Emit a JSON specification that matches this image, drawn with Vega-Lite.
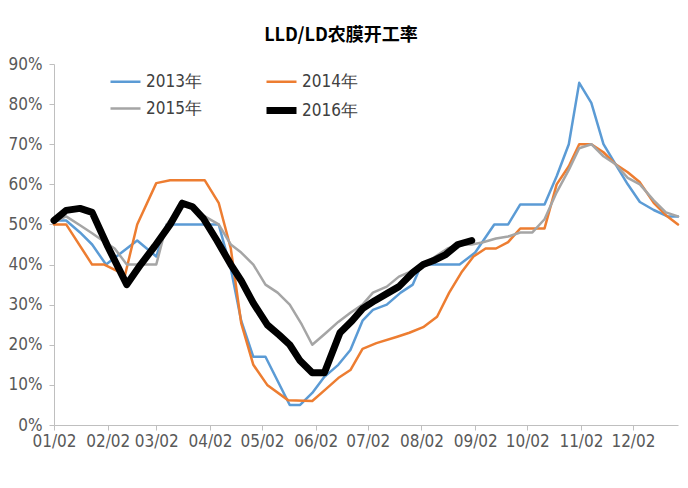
{
  "$schema": "https://vega.github.io/schema/vega-lite/v6.json",
  "width": 624,
  "height": 361,
  "autosize": {"type": "none"},
  "padding": {"left": 54, "top": 64, "right": 10, "bottom": 63},
  "background": "white",
  "title": {
    "text": "LLD/LD农膜开工率",
    "font": "Noto Sans CJK SC",
    "fontSize": 18,
    "fontWeight": "bold",
    "color": "#000000",
    "anchor": "middle",
    "dx": -25,
    "offset": 10
  },
  "config": {"view": {"stroke": null}},
  "data": {
    "values": [
      {"s": "2013年", "d": "2015-01-02", "v": 51},
      {"s": "2013年", "d": "2015-01-09", "v": 51},
      {"s": "2013年", "d": "2015-01-17", "v": 48},
      {"s": "2013年", "d": "2015-01-24", "v": 45},
      {"s": "2013年", "d": "2015-02-01", "v": 40},
      {"s": "2013年", "d": "2015-02-10", "v": 43},
      {"s": "2013年", "d": "2015-02-19", "v": 46},
      {"s": "2013年", "d": "2015-03-02", "v": 42},
      {"s": "2013年", "d": "2015-03-08", "v": 50},
      {"s": "2013年", "d": "2015-04-07", "v": 50},
      {"s": "2013年", "d": "2015-04-14", "v": 39},
      {"s": "2013年", "d": "2015-04-20", "v": 26},
      {"s": "2013年", "d": "2015-04-27", "v": 17},
      {"s": "2013年", "d": "2015-05-04", "v": 17},
      {"s": "2013年", "d": "2015-05-18", "v": 5},
      {"s": "2013年", "d": "2015-05-24", "v": 5},
      {"s": "2013年", "d": "2015-05-31", "v": 8},
      {"s": "2013年", "d": "2015-06-07", "v": 12},
      {"s": "2013年", "d": "2015-06-15", "v": 15},
      {"s": "2013年", "d": "2015-06-22", "v": 18.7},
      {"s": "2013年", "d": "2015-06-29", "v": 26},
      {"s": "2013年", "d": "2015-07-05", "v": 28.7},
      {"s": "2013年", "d": "2015-07-13", "v": 30},
      {"s": "2013年", "d": "2015-07-21", "v": 33},
      {"s": "2013年", "d": "2015-07-28", "v": 35},
      {"s": "2013年", "d": "2015-08-02", "v": 40},
      {"s": "2013年", "d": "2015-08-24", "v": 40},
      {"s": "2013年", "d": "2015-09-02", "v": 43},
      {"s": "2013年", "d": "2015-09-13", "v": 50},
      {"s": "2013年", "d": "2015-09-21", "v": 50},
      {"s": "2013年", "d": "2015-09-28", "v": 55},
      {"s": "2013年", "d": "2015-10-12", "v": 55},
      {"s": "2013年", "d": "2015-10-19", "v": 62},
      {"s": "2013年", "d": "2015-10-26", "v": 70},
      {"s": "2013年", "d": "2015-11-01", "v": 85.3},
      {"s": "2013年", "d": "2015-11-08", "v": 80.3},
      {"s": "2013年", "d": "2015-11-15", "v": 70},
      {"s": "2013年", "d": "2015-11-22", "v": 65},
      {"s": "2013年", "d": "2015-11-29", "v": 60},
      {"s": "2013年", "d": "2015-12-06", "v": 55.6},
      {"s": "2013年", "d": "2015-12-14", "v": 53.6},
      {"s": "2013年", "d": "2015-12-22", "v": 52},
      {"s": "2013年", "d": "2015-12-28", "v": 52},

      {"s": "2014年", "d": "2015-01-02", "v": 50},
      {"s": "2014年", "d": "2015-01-09", "v": 50},
      {"s": "2014年", "d": "2015-01-24", "v": 40},
      {"s": "2014年", "d": "2015-01-31", "v": 40},
      {"s": "2014年", "d": "2015-02-12", "v": 37.4},
      {"s": "2014年", "d": "2015-02-19", "v": 50},
      {"s": "2014年", "d": "2015-03-02", "v": 60.3},
      {"s": "2014年", "d": "2015-03-10", "v": 61},
      {"s": "2014年", "d": "2015-03-30", "v": 61},
      {"s": "2014年", "d": "2015-04-07", "v": 55.4},
      {"s": "2014年", "d": "2015-04-14", "v": 44},
      {"s": "2014年", "d": "2015-04-20", "v": 25.4},
      {"s": "2014年", "d": "2015-04-27", "v": 15},
      {"s": "2014年", "d": "2015-05-05", "v": 10},
      {"s": "2014年", "d": "2015-05-17", "v": 6.2},
      {"s": "2014年", "d": "2015-05-31", "v": 6},
      {"s": "2014年", "d": "2015-06-08", "v": 9},
      {"s": "2014年", "d": "2015-06-15", "v": 11.7},
      {"s": "2014年", "d": "2015-06-22", "v": 13.7},
      {"s": "2014年", "d": "2015-06-29", "v": 19},
      {"s": "2014年", "d": "2015-07-07", "v": 20.4},
      {"s": "2014年", "d": "2015-07-19", "v": 22},
      {"s": "2014年", "d": "2015-07-26", "v": 23},
      {"s": "2014年", "d": "2015-08-03", "v": 24.4},
      {"s": "2014年", "d": "2015-08-11", "v": 27},
      {"s": "2014年", "d": "2015-08-18", "v": 33},
      {"s": "2014年", "d": "2015-08-25", "v": 38},
      {"s": "2014年", "d": "2015-09-01", "v": 42},
      {"s": "2014年", "d": "2015-09-08", "v": 44},
      {"s": "2014年", "d": "2015-09-14", "v": 44},
      {"s": "2014年", "d": "2015-09-21", "v": 45.6},
      {"s": "2014年", "d": "2015-09-28", "v": 49},
      {"s": "2014年", "d": "2015-10-12", "v": 49},
      {"s": "2014年", "d": "2015-10-19", "v": 60},
      {"s": "2014年", "d": "2015-10-26", "v": 64.5},
      {"s": "2014年", "d": "2015-11-01", "v": 70},
      {"s": "2014年", "d": "2015-11-08", "v": 70},
      {"s": "2014年", "d": "2015-11-15", "v": 68},
      {"s": "2014年", "d": "2015-11-22", "v": 65},
      {"s": "2014年", "d": "2015-11-29", "v": 63},
      {"s": "2014年", "d": "2015-12-06", "v": 60.5},
      {"s": "2014年", "d": "2015-12-14", "v": 55.4},
      {"s": "2014年", "d": "2015-12-21", "v": 52.3},
      {"s": "2014年", "d": "2015-12-28", "v": 50},

      {"s": "2015年", "d": "2015-01-02", "v": 50.6},
      {"s": "2015年", "d": "2015-01-09", "v": 52},
      {"s": "2015年", "d": "2015-01-17", "v": 49.8},
      {"s": "2015年", "d": "2015-01-24", "v": 47.8},
      {"s": "2015年", "d": "2015-01-30", "v": 46},
      {"s": "2015年", "d": "2015-02-06", "v": 44},
      {"s": "2015年", "d": "2015-02-13", "v": 40},
      {"s": "2015年", "d": "2015-03-02", "v": 40},
      {"s": "2015年", "d": "2015-03-08", "v": 50},
      {"s": "2015年", "d": "2015-03-17", "v": 55},
      {"s": "2015年", "d": "2015-03-23", "v": 54},
      {"s": "2015年", "d": "2015-03-30", "v": 52},
      {"s": "2015年", "d": "2015-04-07", "v": 50},
      {"s": "2015年", "d": "2015-04-14", "v": 45},
      {"s": "2015年", "d": "2015-04-20", "v": 43},
      {"s": "2015年", "d": "2015-04-27", "v": 40},
      {"s": "2015年", "d": "2015-05-04", "v": 35},
      {"s": "2015年", "d": "2015-05-11", "v": 33},
      {"s": "2015年", "d": "2015-05-18", "v": 30},
      {"s": "2015年", "d": "2015-05-25", "v": 25},
      {"s": "2015年", "d": "2015-05-31", "v": 20},
      {"s": "2015年", "d": "2015-06-08", "v": 23},
      {"s": "2015年", "d": "2015-06-15", "v": 25.7},
      {"s": "2015年", "d": "2015-06-22", "v": 28},
      {"s": "2015年", "d": "2015-06-29", "v": 30},
      {"s": "2015年", "d": "2015-07-05", "v": 33},
      {"s": "2015年", "d": "2015-07-13", "v": 34.5},
      {"s": "2015年", "d": "2015-07-20", "v": 37},
      {"s": "2015年", "d": "2015-07-28", "v": 38.5},
      {"s": "2015年", "d": "2015-08-03", "v": 40},
      {"s": "2015年", "d": "2015-08-10", "v": 42},
      {"s": "2015年", "d": "2015-08-17", "v": 44},
      {"s": "2015年", "d": "2015-08-24", "v": 45},
      {"s": "2015年", "d": "2015-08-31", "v": 45},
      {"s": "2015年", "d": "2015-09-06", "v": 45.5},
      {"s": "2015年", "d": "2015-09-14", "v": 46.5},
      {"s": "2015年", "d": "2015-09-21", "v": 47},
      {"s": "2015年", "d": "2015-09-28", "v": 48},
      {"s": "2015年", "d": "2015-10-05", "v": 48},
      {"s": "2015年", "d": "2015-10-12", "v": 51.3},
      {"s": "2015年", "d": "2015-10-19", "v": 58},
      {"s": "2015年", "d": "2015-10-26", "v": 63.6},
      {"s": "2015年", "d": "2015-11-01", "v": 69},
      {"s": "2015年", "d": "2015-11-08", "v": 70},
      {"s": "2015年", "d": "2015-11-15", "v": 67},
      {"s": "2015年", "d": "2015-11-22", "v": 65},
      {"s": "2015年", "d": "2015-11-29", "v": 61.6},
      {"s": "2015年", "d": "2015-12-06", "v": 60},
      {"s": "2015年", "d": "2015-12-14", "v": 56},
      {"s": "2015年", "d": "2015-12-21", "v": 53},
      {"s": "2015年", "d": "2015-12-28", "v": 52},

      {"s": "2016年", "d": "2015-01-02", "v": 51},
      {"s": "2016年", "d": "2015-01-09", "v": 53.5},
      {"s": "2016年", "d": "2015-01-17", "v": 54},
      {"s": "2016年", "d": "2015-01-24", "v": 53},
      {"s": "2016年", "d": "2015-02-02", "v": 44.5},
      {"s": "2016年", "d": "2015-02-13", "v": 35},
      {"s": "2016年", "d": "2015-02-21", "v": 40},
      {"s": "2016年", "d": "2015-03-01", "v": 44.5},
      {"s": "2016年", "d": "2015-03-10", "v": 50},
      {"s": "2016年", "d": "2015-03-17", "v": 55.3},
      {"s": "2016年", "d": "2015-03-23", "v": 54.4},
      {"s": "2016年", "d": "2015-03-29", "v": 51.6},
      {"s": "2016年", "d": "2015-04-06", "v": 46},
      {"s": "2016年", "d": "2015-04-14", "v": 40},
      {"s": "2016年", "d": "2015-04-20", "v": 36},
      {"s": "2016年", "d": "2015-04-27", "v": 30.4},
      {"s": "2016年", "d": "2015-05-05", "v": 25},
      {"s": "2016年", "d": "2015-05-12", "v": 22.4},
      {"s": "2016年", "d": "2015-05-18", "v": 20},
      {"s": "2016年", "d": "2015-05-24", "v": 16},
      {"s": "2016年", "d": "2015-05-31", "v": 13},
      {"s": "2016年", "d": "2015-06-07", "v": 13},
      {"s": "2016年", "d": "2015-06-16", "v": 23},
      {"s": "2016年", "d": "2015-06-23", "v": 26},
      {"s": "2016年", "d": "2015-06-29", "v": 29},
      {"s": "2016年", "d": "2015-07-06", "v": 31},
      {"s": "2016年", "d": "2015-07-14", "v": 33},
      {"s": "2016年", "d": "2015-07-20", "v": 34.5},
      {"s": "2016年", "d": "2015-07-28", "v": 38},
      {"s": "2016年", "d": "2015-08-03", "v": 40},
      {"s": "2016年", "d": "2015-08-09", "v": 41},
      {"s": "2016年", "d": "2015-08-16", "v": 42.5},
      {"s": "2016年", "d": "2015-08-23", "v": 45},
      {"s": "2016年", "d": "2015-08-31", "v": 46}
    ]
  },
  "mark": {"type": "line", "strokeCap": "round", "strokeJoin": "round"},
  "encoding": {
    "x": {
      "field": "d",
      "type": "temporal",
      "scale": {
        "type": "utc",
        "domain": [
          {"year": 2015, "month": 1, "date": 2, "utc": true},
          {"year": 2015, "month": 12, "date": 28, "utc": true}
        ]
      },
      "axis": {
        "title": null,
        "grid": false,
        "format": "%m/%d",
        "values": [
          {"year": 2015, "month": 1, "date": 2, "utc": true},
          {"year": 2015, "month": 2, "date": 2, "utc": true},
          {"year": 2015, "month": 3, "date": 2, "utc": true},
          {"year": 2015, "month": 4, "date": 2, "utc": true},
          {"year": 2015, "month": 5, "date": 2, "utc": true},
          {"year": 2015, "month": 6, "date": 2, "utc": true},
          {"year": 2015, "month": 7, "date": 2, "utc": true},
          {"year": 2015, "month": 8, "date": 2, "utc": true},
          {"year": 2015, "month": 9, "date": 2, "utc": true},
          {"year": 2015, "month": 10, "date": 2, "utc": true},
          {"year": 2015, "month": 11, "date": 2, "utc": true},
          {"year": 2015, "month": 12, "date": 2, "utc": true}
        ],
        "labelFont": "Liberation Sans Narrow, DejaVu Sans Condensed, sans-serif",
        "labelFontSize": 17,
        "labelColor": "#595959",
        "labelPadding": 3,
        "labelOverlap": false,
        "labelFlush": false,
        "domainColor": "#BFBFBF",
        "tickColor": "#BFBFBF",
        "tickSize": 5
      }
    },
    "y": {
      "field": "v",
      "type": "quantitative",
      "scale": {"domain": [0, 90], "nice": false},
      "axis": {
        "title": null,
        "grid": false,
        "values": [0, 10, 20, 30, 40, 50, 60, 70, 80, 90],
        "labelExpr": "datum.value + '%'",
        "labelFont": "Liberation Sans Narrow, DejaVu Sans Condensed, sans-serif",
        "labelFontSize": 17,
        "labelColor": "#595959",
        "labelPadding": 7,
        "domainColor": "#BFBFBF",
        "tickColor": "#BFBFBF",
        "tickSize": 5
      }
    },
    "color": {
      "field": "s",
      "type": "nominal",
      "scale": {
        "domain": ["2013年", "2014年", "2015年", "2016年"],
        "range": ["#5B9BD5", "#ED7D31", "#A5A5A5", "#000000"]
      },
      "legend": {
        "title": null,
        "orient": "none",
        "direction": "horizontal",
        "legendX": 53,
        "legendY": 1,
        "columns": 2,
        "symbolType": "stroke",
        "symbolSize": 900,
        "columnPadding": 50,
        "rowPadding": 2,
        "labelOffset": 2,
        "labelFont": "Liberation Sans Narrow, DejaVu Sans Condensed, sans-serif",
        "labelFontSize": 17,
        "labelColor": "#404040"
      }
    },
    "strokeWidth": {
      "field": "s",
      "type": "nominal",
      "scale": {
        "type": "ordinal",
        "domain": ["2013年", "2014年", "2015年", "2016年"],
        "range": [2.5, 2.5, 2.5, 7]
      },
      "legend": {
        "title": null,
        "orient": "none",
        "direction": "horizontal",
        "legendX": 53,
        "legendY": 1,
        "columns": 2,
        "symbolType": "stroke",
        "symbolSize": 900,
        "columnPadding": 50,
        "rowPadding": 2,
        "labelOffset": 2,
        "labelFont": "Liberation Sans Narrow, DejaVu Sans Condensed, sans-serif",
        "labelFontSize": 17,
        "labelColor": "#404040"
      }
    }
  }
}
